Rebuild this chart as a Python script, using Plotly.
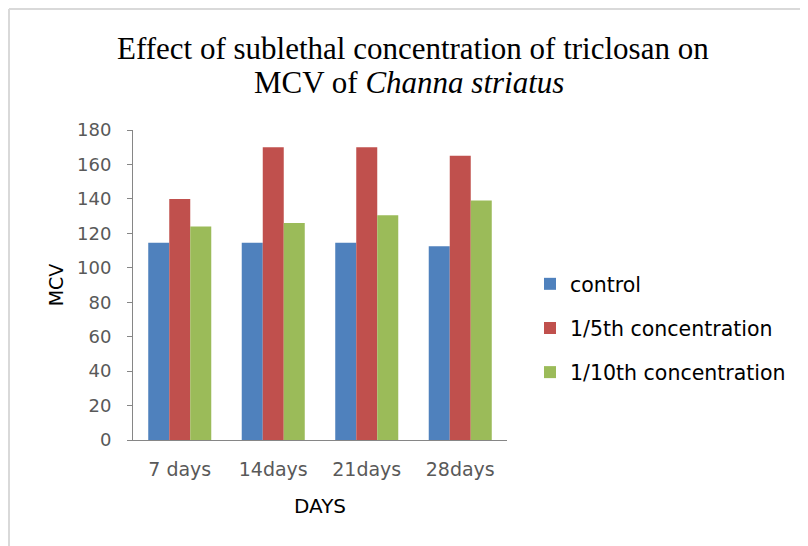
import plotly.graph_objects as go

categories = ["7 days", "14days", "21days", "28days"]
control = [114.5, 114.5, 114.5, 112.5]
fifth_conc = [140, 170, 170, 165]
tenth_conc = [124, 126, 130.5, 139]
series_names = ["control", "1/5th concentration", "1/10th concentration"]
series_colors = ["#4F81BD", "#C0504D", "#9BBB59"]
y_ticks = [0, 20, 40, 60, 80, 100, 120, 140, 160, 180]
title_line1 = "Effect of sublethal concentration of triclosan on"
title_line2 = "MCV of <i>Channa striatus</i>"

W, H = 800, 538
L, R, T, B = 125, 301, 122, 106
pw, ph = W - L - R, H - T - B

def px_x(x):
    return (x - L) / pw

def px_y(y):
    return (H - B - y) / ph

fig = go.Figure()
for i, (name, vals, col) in enumerate(zip(series_names, [control, fifth_conc, tenth_conc], series_colors)):
    fig.add_trace(go.Bar(x=categories, y=vals, name=name, marker_color=col,
                         marker_line_width=0, legendgroup=f"g{i}"))

title_font = dict(family="Liberation Serif", size=31, color="#000000")

fig.update_layout(
    width=W, height=H,
    margin=dict(l=L, r=R, t=T, b=B),
    paper_bgcolor="white", plot_bgcolor="white",
    barmode="group", bargap=0.326, bargroupgap=0,
    font=dict(family="DejaVu Sans"),
    legend=dict(
        x=px_x(522), y=px_y(256), xanchor="left", yanchor="top",
        font=dict(family="DejaVu Sans", size=20.5, color="#000000"),
        tracegroupgap=14.5, bgcolor="rgba(0,0,0,0)",
    ),
    xaxis=dict(
        showline=True, linecolor="#868686", linewidth=1,
        ticks="", ticklabelstandoff=12,
        tickfont=dict(family="DejaVu Sans", size=19, color="#595959"),
        title=dict(text="DAYS", font=dict(family="DejaVu Sans", size=20, color="#000000"), standoff=20),
        showgrid=False, zeroline=False,
    ),
    yaxis=dict(
        range=[0, 180], tickvals=y_ticks,
        showline=True, linecolor="#868686", linewidth=1,
        ticks="outside", ticklen=5, tickcolor="#868686", ticklabelstandoff=12,
        tickfont=dict(family="DejaVu Sans", size=18, color="#595959"),
        title=dict(text="MCV", font=dict(family="DejaVu Sans", size=19, color="#000000"), standoff=8),
        showgrid=False, zeroline=False,
    ),
    annotations=[
        dict(text=title_line1, xref="paper", yref="paper", x=px_x(405), y=px_y(40.5),
             xanchor="center", yanchor="middle", showarrow=False, font=title_font),
        dict(text=title_line2, xref="paper", yref="paper", x=px_x(401), y=px_y(74),
             xanchor="center", yanchor="middle", showarrow=False, font=title_font),
    ],
    shapes=[
        dict(type="line", xref="paper", yref="paper", x0=px_x(1), x1=px_x(830),
             y0=px_y(1), y1=px_y(1), line=dict(color="#d9d9d9", width=2)),
        dict(type="line", xref="paper", yref="paper", x0=px_x(1), x1=px_x(1),
             y0=px_y(1), y1=px_y(560), line=dict(color="#d9d9d9", width=2)),
    ],
)

fig.write_html("out.html")
